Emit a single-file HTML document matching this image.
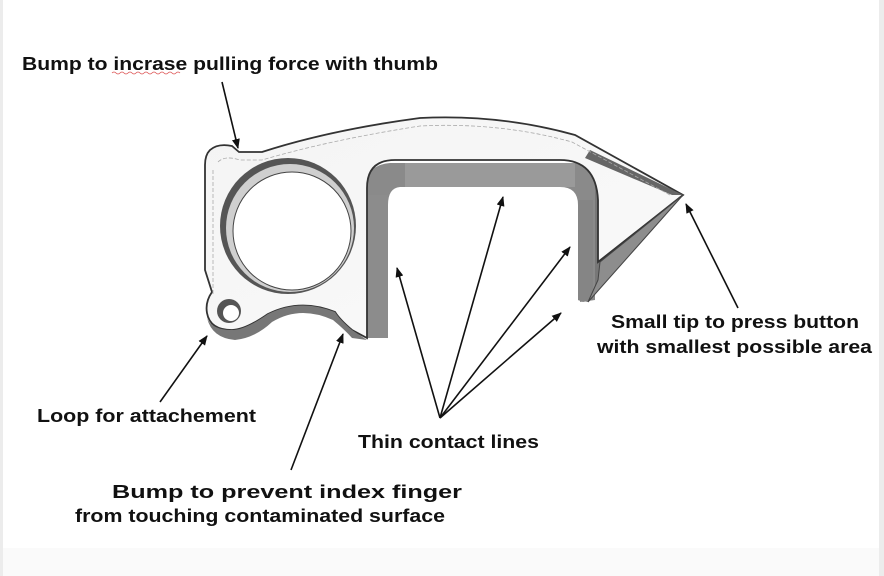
<!DOCTYPE html>
<html><head><meta charset="utf-8"><style>
html,body{margin:0;padding:0;background:#fff;}
body{width:884px;height:576px;position:relative;overflow:hidden;}
svg{position:absolute;left:0;top:0;}
text{font-family:"Liberation Sans",Arial,sans-serif;font-weight:bold;font-size:18px;fill:#111;}
</style></head><body>
<svg width="884" height="576" viewBox="0 0 884 576">
<defs>
<marker id="ah" markerWidth="10" markerHeight="8" refX="9" refY="4" orient="auto" markerUnits="userSpaceOnUse">
<path d="M0,0 L10,4 L0,8 Z" fill="#111"/></marker>
<linearGradient id="body" x1="0" y1="0" x2="1" y2="1">
<stop offset="0" stop-color="#f4f4f4"/><stop offset="1" stop-color="#fafafa"/></linearGradient>
</defs>
<rect x="0" y="0" width="884" height="576" fill="#fff"/>
<rect x="0" y="0" width="3" height="576" fill="#ececec"/>
<rect x="879" y="0" width="5" height="576" fill="#ececec"/>
<rect x="3" y="548" width="876" height="28" fill="#fafafa"/>

<!-- side faces (dark) -->
<path d="M593,155 L683,195 L588,302 L578,300 L578,200 Z" fill="#777"/>
<path d="M367,185 Q367,165 390,163 L575,163 Q595,165 595,190 L595,300 L580,302 L578,205 Q578,187 560,187 L400,187 Q388,188 388,205 L388,338 L367,338 Z" fill="#8a8a8a"/>
<path d="M405,163 L575,163 L575,187 L405,187 Z" fill="#9a9a9a"/>
<path d="M367,195 L388,195 L388,338 L367,338 Z" fill="#8c8c8c"/>
<path d="M578,200 L593,200 L593,300 L583,302 L578,300 Z" fill="#858585"/>

<!-- main body top face -->
<path d="M210,150 Q218,143 232,146 L239,152 L262,152 Q330,130 420,118 Q500,114 575,135 L683,195 L598,262 L598,200 Q596,160 560,160 L395,160 Q367,160 367,188 L367,338 L352,330 Q340,320 335,312 Q300,298 268,314 Q245,330 232,330 Q210,330 207,313 Q205,302 212,292 L205,270 L205,165 Q205,155 210,150 Z" fill="url(#body)" stroke="#333" stroke-width="1.8"/>
<!-- tip bevel -->
<path d="M683,195 L600,262 L598,280 L588,302 Z" fill="#8d8d8d" stroke="#444" stroke-width="1"/>
<path d="M590,150 L683,195 L672,195 L585,158 Z" fill="#666"/>
<!-- bottom thickness -->
<path d="M207,318 Q212,338 235,340 Q255,338 272,322 Q300,305 333,320 Q345,330 352,338 L367,340 L352,330 Q340,320 335,312 Q300,298 268,314 Q245,330 232,330 Q212,330 207,318 Z" fill="#777"/>
<!-- dashed inner contour -->
<path d="M218,162 Q225,155 240,160 L262,160 Q330,140 420,126 Q500,122 572,142 L670,195" fill="none" stroke="#aaa" stroke-width="0.8" stroke-dasharray="4,2"/>
<path d="M213,170 L213,295" fill="none" stroke="#aaa" stroke-width="0.8" stroke-dasharray="4,2"/>

<!-- ring -->
<circle cx="288" cy="226" r="68" fill="#555"/>
<circle cx="290" cy="228" r="64" fill="#cfcfcf"/>
<circle cx="292" cy="231" r="59" fill="#fff" stroke="#444" stroke-width="1"/>
<!-- loop hole -->
<circle cx="229" cy="311" r="12" fill="#555"/>
<circle cx="231" cy="313" r="8" fill="#fff"/>

<!-- arrows -->
<g stroke="#111" stroke-width="1.6" fill="none" marker-end="url(#ah)">
<line x1="222" y1="82" x2="238" y2="148"/>
<line x1="160" y1="402" x2="207" y2="336"/>
<line x1="291" y1="470" x2="343" y2="334"/>
<line x1="440" y1="418" x2="397" y2="268"/>
<line x1="440" y1="418" x2="503" y2="197"/>
<line x1="440" y1="418" x2="570" y2="247"/>
<line x1="440" y1="418" x2="561" y2="313"/>
<line x1="738" y1="308" x2="686" y2="204"/>
</g>

<!-- labels -->
<text x="22" y="70" textLength="416" lengthAdjust="spacingAndGlyphs">Bump to incrase pulling force with thumb</text>
<path d="M112,73 Q114,71 116,73 T120,73 T124,73 T128,73 T132,73 T136,73 T140,73 T144,73 T148,73 T152,73 T156,73 T160,73 T164,73 T168,73 T172,73 T176,73 T180,73" fill="none" stroke="#d55" stroke-width="0.8"/>
<text x="37" y="422" textLength="219" lengthAdjust="spacingAndGlyphs">Loop for attachement</text>
<text x="358" y="448" textLength="181" lengthAdjust="spacingAndGlyphs">Thin contact lines</text>
<text x="611" y="328" textLength="248" lengthAdjust="spacingAndGlyphs">Small tip to press button</text>
<text x="597" y="353" textLength="275" lengthAdjust="spacingAndGlyphs">with smallest possible area</text>
<text x="112" y="498" textLength="350" lengthAdjust="spacingAndGlyphs">Bump to prevent index finger</text>
<text x="75" y="522" textLength="370" lengthAdjust="spacingAndGlyphs">from touching contaminated surface</text>
</svg>
</body></html>
